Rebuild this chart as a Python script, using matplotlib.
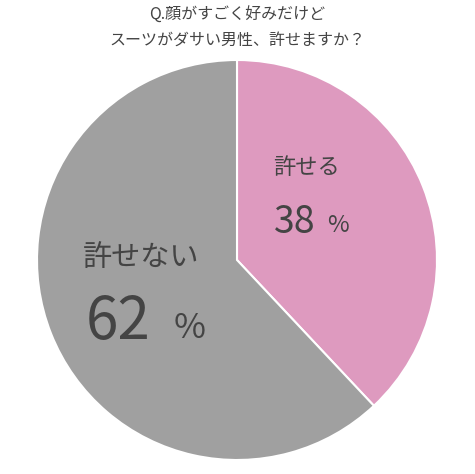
import matplotlib
matplotlib.use("Agg")
import matplotlib.pyplot as plt

labels = ["許せる", "許せない"]
values = [38, 62]
colors = ["#DE9ABF", "#A0A0A0"]
title_lines = ["Q.顔がすごく好みだけど", "スーツがダサい男性、許せますか？"]

plt.rcParams['font.family'] = ['Noto Sans CJK JP', 'DejaVu Sans']
W, H = 475, 474
fig = plt.figure(figsize=(W/100, H/100), dpi=100)
ax = fig.add_axes([37/W, 14/H, 400/W, 400/H])
ax.pie(values, colors=colors, startangle=90, counterclock=False,
       wedgeprops=dict(edgecolor="white", linewidth=1.5))
ax.set_xlim(-1, 1)
ax.set_ylim(-1, 1)
ax.set_aspect("equal")
ax.axis("off")

def ftxt(x, y, s, size):
    fig.text(x/W, 1 - y/H, s, fontsize=size, ha="center", va="center", color="#444444")

ftxt(237, 15, title_lines[0], 11.5)
ftxt(237, 40, title_lines[1], 11.5)

ftxt(307, 168, labels[0], 16)
ftxt(295, 222, f"{values[0]}", 27)
ftxt(338, 226, "%", 17)
ftxt(141, 258, labels[1], 21)
ftxt(118, 322, f"{values[1]}", 42)
ftxt(190, 328, "%", 25)

fig.savefig("out.png", dpi=100, facecolor="white")
